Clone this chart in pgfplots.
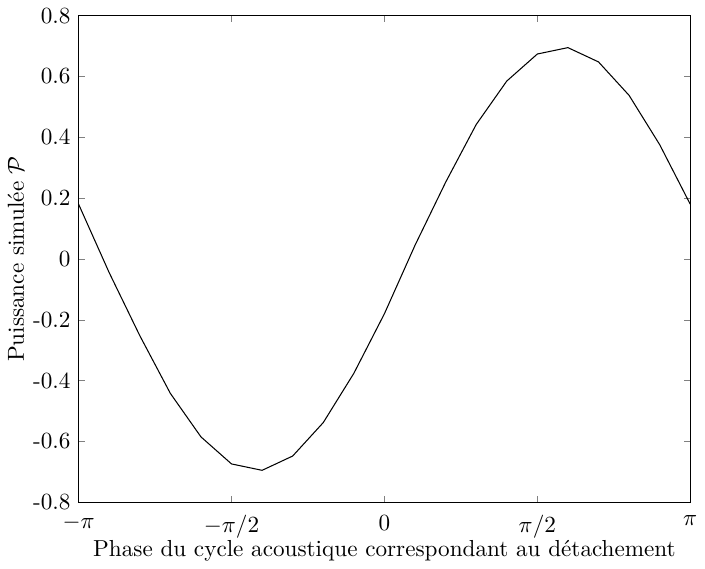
\documentclass[border=0pt]{standalone}
\usepackage{pgfplots}
\pgfplotsset{compat=1.18}
\begin{document}
\begin{tikzpicture}
  \begin{axis}[
    scale only axis,
    width=264pt, height=210pt,
    xmin=-3.14159265, xmax=3.14159265,
    ymin=-0.8, ymax=0.8,
    xtick={-3.14159265,-1.5707963,0,1.5707963,3.14159265},
    xticklabels={$-\pi$,$-\pi/2$,$0$,$\pi/2$,$\pi$},
    ytick={-0.8,-0.6,-0.4,-0.2,0,0.2,0.4,0.6,0.8},
    yticklabels={-0.8,-0.6,-0.4,-0.2,0,0.2,0.4,0.6,0.8},
    tick align=inside,
    major tick length=2.6pt,
    axis line style={line width=0.6pt},
    xticklabel style={yshift=-2pt},
    xlabel={Phase du cycle acoustique correspondant au détachement},
    ylabel={Puissance simulée $\mathcal{P}$},
    xlabel style={yshift=6pt},
    ylabel style={yshift=-3pt},
  ]
    % phase (rad)   puissance
    \addplot[black, line width=0.45pt] coordinates {
      (-3.14159, 0.180)
      (-2.82743, -0.045)
      (-2.51327, -0.252)
      (-2.19911, -0.442)
      (-1.88496, -0.585)
      (-1.57080, -0.674)
      (-1.25664, -0.695)
      (-0.94248, -0.648)
      (-0.62832, -0.538)
      (-0.31416, -0.376)
      (0.00000, -0.180)
      (0.31416, 0.045)
      (0.62832, 0.252)
      (0.94248, 0.442)
      (1.25664, 0.585)
      (1.57080, 0.674)
      (1.88496, 0.695)
      (2.19911, 0.648)
      (2.51327, 0.538)
      (2.82743, 0.376)
      (3.14159, 0.180)
    };
  \end{axis}
\end{tikzpicture}
\end{document}
